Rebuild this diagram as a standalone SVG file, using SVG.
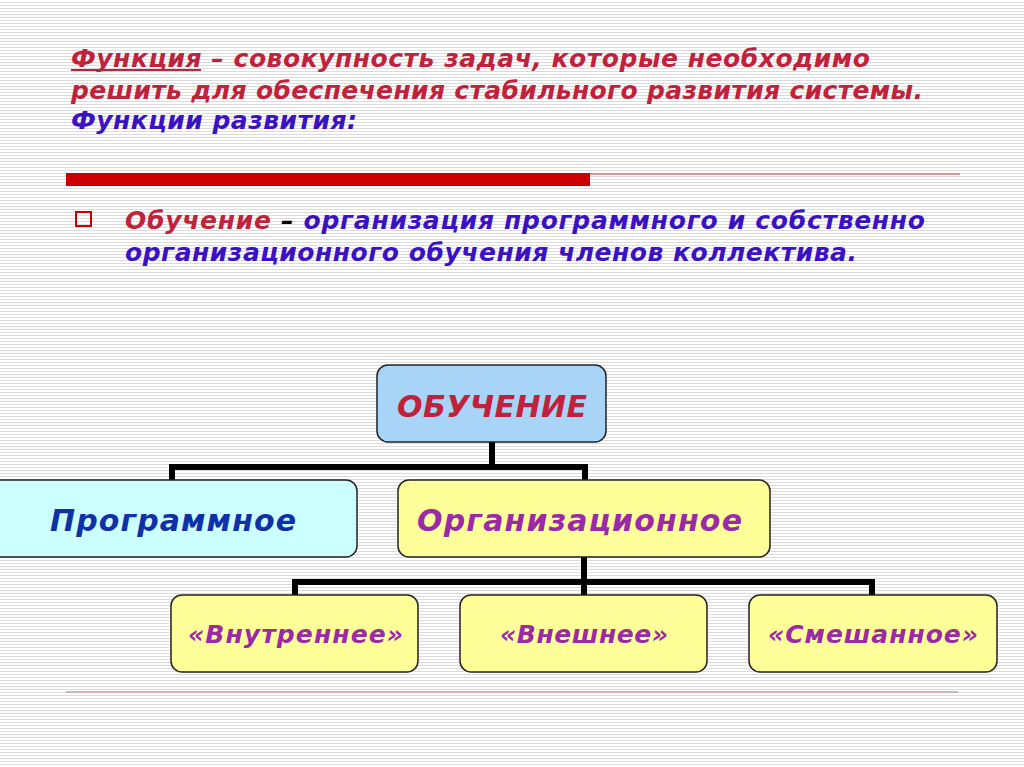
<svg xmlns="http://www.w3.org/2000/svg" width="1024" height="767" viewBox="0 0 1024 767">
<defs>
<pattern id="stripes" width="8" height="3" patternUnits="userSpaceOnUse">
<rect width="8" height="3" fill="#ffffff"/>
<rect y="2" width="8" height="1" fill="#dcdcdc"/>
</pattern>
<style>
.t{font-family:"DejaVu Sans","Liberation Sans",sans-serif;font-weight:bold;font-style:italic}
.red{fill:#c0223c}
.blue{fill:#3a12c4}
.box{stroke:#222;stroke-width:1.5}
.conn{stroke:#000;stroke-width:6;fill:none}
.purple{fill:#9a2aa6}
</style>
</defs>
<rect width="1024" height="767" fill="url(#stripes)"/>

<g id="header">
<text class="t" font-size="25" x="71" y="67" textLength="799" lengthAdjust="spacing"><tspan class="red">Функция</tspan><tspan class="red"> – совокупность задач, которые необходимо</tspan></text>
<line x1="71" y1="70" x2="201" y2="70" stroke="#c0223c" stroke-width="2"/>
<text class="t red" font-size="25" x="71" y="99" textLength="852" lengthAdjust="spacing">решить для обеспечения стабильного развития системы.</text>
<text class="t blue" font-size="25" x="71" y="129" textLength="286" lengthAdjust="spacing">Функции развития:</text>
<rect x="66" y="173" width="524" height="13" fill="#cc0000"/>
<line x1="590" y1="174" x2="960" y2="174" stroke="#c04040" stroke-width="1"/>
<rect x="76" y="212" width="15" height="14" fill="none" stroke="#cc0000" stroke-width="2"/>
<text class="t" font-size="25" x="125" y="229" textLength="800" lengthAdjust="spacing"><tspan class="red">Обучение</tspan><tspan fill="#000"> – </tspan><tspan class="blue">организация программного и собственно</tspan></text>
<text class="t blue" font-size="25" x="125" y="261" textLength="732" lengthAdjust="spacing">организационного обучения членов коллектива.</text>
</g>

<g id="connectors">
<path class="conn" d="M492 442 V467 M169 467 H588 M172 467 V481 M585 467 V481"/>
<path class="conn" d="M584 557 V582 M292 582 H875 M295 582 V596 M584 582 V596 M872 582 V596"/>
</g>

<g id="node-obuchenie">
<rect class="box" x="377" y="365" width="229" height="77" rx="11" fill="#a8d4f8"/>
<text class="t red" font-size="30" x="397" y="417" textLength="190" lengthAdjust="spacing">ОБУЧЕНИЕ</text>
</g>
<g id="node-programmnoe">
<rect class="box" x="-10" y="480" width="367" height="77" rx="11" fill="#ccffff"/>
<text class="t" font-size="30" x="50" y="531" textLength="246" lengthAdjust="spacing" fill="#1030a8">Программное</text>
</g>
<g id="node-organizacionnoe">
<rect class="box" x="398" y="480" width="372" height="77" rx="11" fill="#ffff99"/>
<text class="t purple" font-size="30" x="417" y="531" textLength="325" lengthAdjust="spacing">Организационное</text>
</g>
<g id="node-vnutrennee">
<rect class="box" x="171" y="595" width="247" height="77" rx="11" fill="#ffff99"/>
<text class="t purple" font-size="25" x="188" y="643" textLength="215" lengthAdjust="spacing">«Внутреннее»</text>
</g>
<g id="node-vneshnee">
<rect class="box" x="460" y="595" width="247" height="77" rx="11" fill="#ffff99"/>
<text class="t purple" font-size="25" x="500" y="643" textLength="168" lengthAdjust="spacing">«Внешнее»</text>
</g>
<g id="node-smeshannoe">
<rect class="box" x="749" y="595" width="248" height="77" rx="11" fill="#ffff99"/>
<text class="t purple" font-size="25" x="768" y="643" textLength="210" lengthAdjust="spacing">«Смешанное»</text>
</g>

<line x1="66" y1="692" x2="958" y2="692" stroke="#d8b0b8" stroke-width="2"/>
</svg>
